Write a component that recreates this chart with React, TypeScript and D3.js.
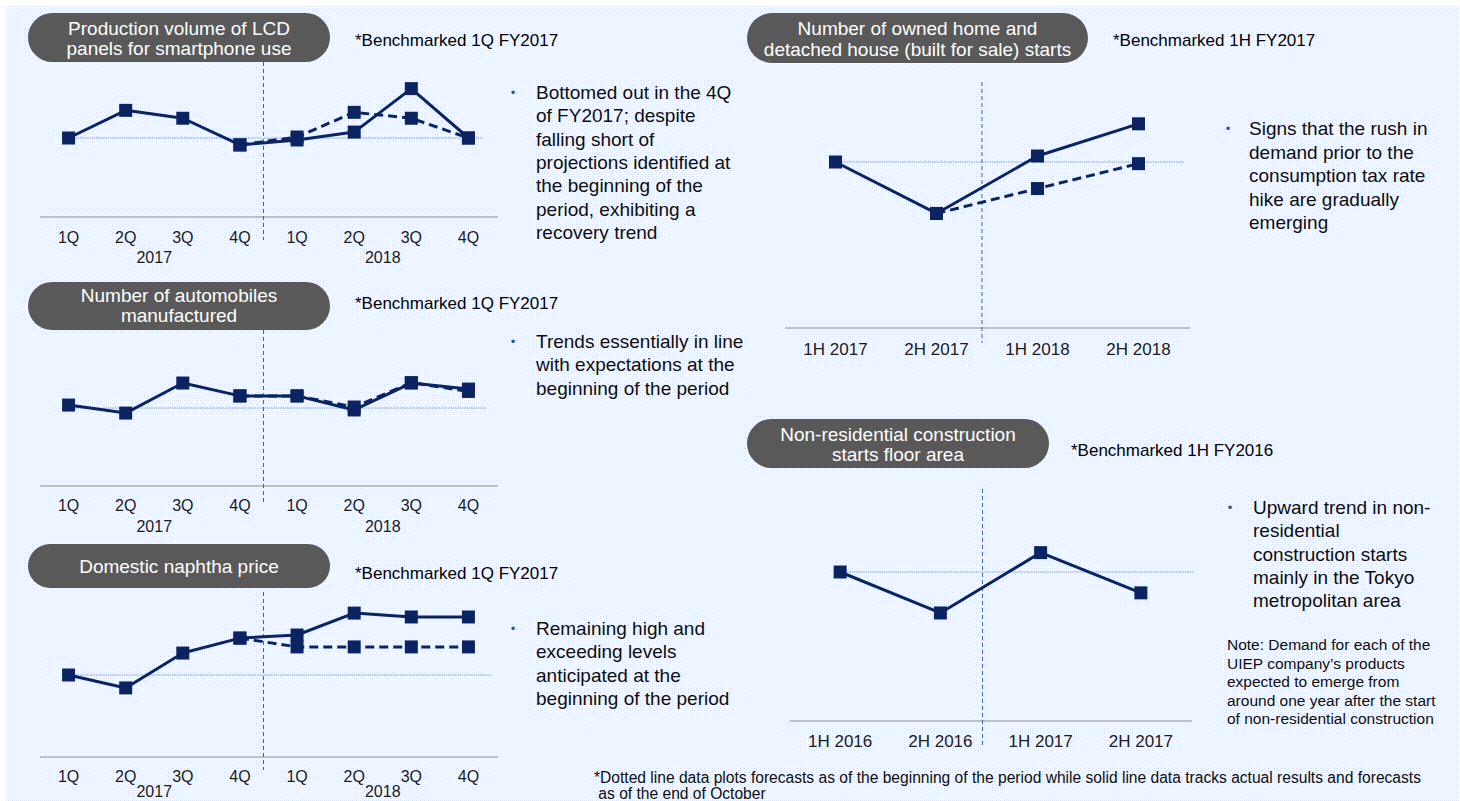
import React from 'react';
import * as d3 from 'd3';

const W = 1460;
const H = 801;
const FONT = "Arial, 'Liberation Sans', Helvetica, sans-serif";
const NAVY = '#0b2461';

// Category labels
const quarterTicks = ['1Q', '2Q', '3Q', '4Q', '1Q', '2Q', '3Q', '4Q'];
const quarterYears = ['2017', '2018'];
const houseHalves = ['1H 2017', '2H 2017', '1H 2018', '2H 2018'];
const nonResHalves = ['1H 2016', '2H 2016', '1H 2017', '2H 2017'];

// Index values (benchmark period = 100); plan = forecast at the beginning of the period
const lcdActual = [100, 114, 110, 96.5, 99, 103, 125, 100];
const lcdPlan = [null, null, null, 96.5, 100.5, 113, 110, 100];

const autoActual = [101.5, 97.4, 112.8, 106.2, 106.2, 99, 112.8, 109.7];
const autoPlan = [null, null, null, 106.2, 106.2, 100.5, 113, 108.5];

const naphthaActual = [100, 93.7, 110.7, 118, 119.5, 130.2, 128.3, 128.3];
const naphthaPlan = [null, null, null, 118, 113.7, 113.7, 113.7, 113.7];

const houseActual = [100, 69, 103.6, 123];
const housePlan = [null, 69, 84, 99];

const nonResActual = [100, 72.5, 113, 86];
const nonResPlan: (number | null)[] = [null, null, null, null];

type Panel = {
  title: string[];
  pill: { x: number; y: number; w: number; h: number };
  titleBase: number[];
  bench: string;
  benchX: number;
  benchY: number;
  ticks: string[];
  years?: string[];
  actual: (number | null)[];
  plan: (number | null)[];
  xRange: [number, number];
  axisY: number;
  refY: number;
  yLow: number;
  tickY: number;
  yearY?: number;
  tickSize: number;
  divShift: number;
  divY: [number, number];
  refPad: number;
  bulletX: number;
  textX: number;
  textY: number;
  lh: number;
  lines: string[];
};

const panels: Panel[] = [
  {
    title: ['Production volume of LCD', 'panels for smartphone use'],
    pill: { x: 28, y: 13, w: 302, h: 49 },
    titleBase: [35, 55],
    bench: '*Benchmarked 1Q FY2017',
    benchX: 355,
    benchY: 46,
    ticks: quarterTicks,
    years: quarterYears,
    actual: lcdActual,
    plan: lcdPlan,
    xRange: [40, 497],
    axisY: 217,
    refY: 138,
    yLow: 60,
    tickY: 243,
    yearY: 263,
    tickSize: 16,
    divShift: -5,
    divY: [62, 240],
    refPad: -14,
    bulletX: 513,
    textX: 536,
    textY: 99,
    lh: 23.3,
    lines: [
      'Bottomed out in the 4Q',
      'of FY2017; despite',
      'falling short of',
      'projections identified at',
      'the beginning of the',
      'period, exhibiting a',
      'recovery trend',
    ],
  },
  {
    title: ['Number of automobiles', 'manufactured'],
    pill: { x: 28, y: 282, w: 302, h: 48 },
    titleBase: [302, 322],
    bench: '*Benchmarked 1Q FY2017',
    benchX: 355,
    benchY: 309,
    ticks: quarterTicks,
    years: quarterYears,
    actual: autoActual,
    plan: autoPlan,
    xRange: [40, 497],
    axisY: 486,
    refY: 408,
    yLow: 60,
    tickY: 511,
    yearY: 532,
    tickSize: 16,
    divShift: -5,
    divY: [330, 505],
    refPad: -10,
    bulletX: 513,
    textX: 536,
    textY: 348,
    lh: 23.3,
    lines: ['Trends essentially in line', 'with expectations at the', 'beginning of the period'],
  },
  {
    title: ['Domestic naphtha price'],
    pill: { x: 28, y: 544, w: 302, h: 44 },
    titleBase: [573],
    bench: '*Benchmarked 1Q FY2017',
    benchX: 355,
    benchY: 579,
    ticks: quarterTicks,
    years: quarterYears,
    actual: naphthaActual,
    plan: naphthaPlan,
    xRange: [40, 497],
    axisY: 757,
    refY: 675,
    yLow: 60,
    tickY: 782,
    yearY: 797,
    tickSize: 16,
    divShift: -5,
    divY: [592, 770],
    refPad: -5,
    bulletX: 513,
    textX: 536,
    textY: 635,
    lh: 23.3,
    lines: ['Remaining high and', 'exceeding levels', 'anticipated at the', 'beginning of the period'],
  },
  {
    title: ['Number of owned home and', 'detached house (built for sale) starts'],
    pill: { x: 747, y: 13, w: 341, h: 50 },
    titleBase: [35, 56],
    bench: '*Benchmarked 1H FY2017',
    benchX: 1113,
    benchY: 46,
    ticks: houseHalves,
    actual: houseActual,
    plan: housePlan,
    xRange: [785, 1189],
    axisY: 328,
    refY: 162,
    yLow: 0,
    tickY: 355,
    tickSize: 17,
    divShift: -5,
    divY: [82, 343],
    refPad: -5,
    bulletX: 1228,
    textX: 1249,
    textY: 135,
    lh: 23.5,
    lines: [
      'Signs that the rush in',
      'demand prior to the',
      'consumption tax rate',
      'hike are gradually',
      'emerging',
    ],
  },
  {
    title: ['Non-residential construction', 'starts floor area'],
    pill: { x: 747, y: 419, w: 302, h: 49 },
    titleBase: [441, 461],
    bench: '*Benchmarked 1H FY2016',
    benchX: 1071,
    benchY: 456,
    ticks: nonResHalves,
    actual: nonResActual,
    plan: nonResPlan,
    xRange: [790, 1191],
    axisY: 721,
    refY: 572,
    yLow: 0,
    tickY: 747,
    tickSize: 17,
    divShift: -8,
    divY: [489, 747],
    refPad: 3,
    bulletX: 1230,
    textX: 1253,
    textY: 514,
    lh: 23.3,
    lines: [
      'Upward trend in non-',
      'residential',
      'construction starts',
      'mainly in the Tokyo',
      'metropolitan area',
    ],
  },
];

const noteLines = [
  'Note: Demand for each of the',
  'UIEP company\u2019s products',
  'expected to emerge from',
  'around one year after the start',
  'of non-residential construction',
];

const footLines = [
  '*Dotted line data plots forecasts as of the beginning of the period while solid line data tracks actual results and forecasts',
  ' as of the end of October',
];

function LinePanel({ p }: { p: Panel }) {
  const idx = p.ticks.map((_, i) => i);
  const x = d3.scaleBand<number>().domain(idx).range(p.xRange).padding(0);
  const cx = (i: number) => (x(i) as number) + x.bandwidth() / 2;
  const y = d3.scaleLinear().domain([p.yLow, 100]).range([p.axisY, p.refY]);

  const toPts = (vals: (number | null)[]) => vals.map((v, i) => [i, v] as [number, number | null]);
  const line = d3
    .line<[number, number | null]>()
    .defined((d) => d[1] != null)
    .x((d) => cx(d[0]))
    .y((d) => y(d[1] as number));

  const actualPts = toPts(p.actual);
  const planPts = toPts(p.plan);
  const half = p.ticks.length / 2;
  const divX = (cx(half - 1) + cx(half)) / 2 + p.divShift;
  const ms = 13;

  return (
    <g>
      {/* title pill */}
      <rect x={p.pill.x} y={p.pill.y} width={p.pill.w} height={p.pill.h} rx={p.pill.h / 2} fill="#595959" />
      {p.title.map((t, i) => (
        <text key={i} x={p.pill.x + p.pill.w / 2} y={p.titleBase[i]} textAnchor="middle" fontSize={19} fill="#ffffff">
          {t}
        </text>
      ))}
      <text x={p.benchX} y={p.benchY} fontSize={17} fill="#000">
        {p.bench}
      </text>

      {/* axis baseline */}
      <line x1={p.xRange[0]} x2={p.xRange[1] + 1} y1={p.axisY} y2={p.axisY} stroke="#8c8c8c" strokeWidth={1.2} />
      {/* benchmark reference */}
      <line
        x1={cx(0)}
        x2={p.xRange[1] + p.refPad}
        y1={y(100)}
        y2={y(100)}
        stroke="#7f9fd9"
        strokeWidth={1.2}
        strokeDasharray="1.5 0.8"
      />
      {/* fiscal-year divider */}
      <line x1={divX} x2={divX} y1={p.divY[0]} y2={p.divY[1]} stroke="#3a64b8" strokeWidth={1} strokeDasharray="4 3" />

      {p.ticks.map((t, i) => (
        <text key={i} x={cx(i)} y={p.tickY} textAnchor="middle" fontSize={p.tickSize} fill="#1a1a1a">
          {t}
        </text>
      ))}
      {p.years &&
        p.years.map((yr, g) => (
          <text
            key={yr}
            x={(cx(g * 4) + cx(g * 4 + 3)) / 2}
            y={p.yearY}
            textAnchor="middle"
            fontSize={16}
            fill="#1a1a1a"
          >
            {yr}
          </text>
        ))}

      {/* series */}
      <path d={line(planPts) || ''} fill="none" stroke={NAVY} strokeWidth={3} strokeDasharray="9 5" />
      <path d={line(actualPts) || ''} fill="none" stroke={NAVY} strokeWidth={3} strokeLinejoin="round" />
      {planPts
        .filter((d) => d[1] != null)
        .map((d) => (
          <rect key={'p' + d[0]} x={cx(d[0]) - ms / 2} y={y(d[1] as number) - ms / 2} width={ms} height={ms} fill={NAVY} />
        ))}
      {actualPts
        .filter((d) => d[1] != null)
        .map((d) => (
          <rect key={'a' + d[0]} x={cx(d[0]) - ms / 2} y={y(d[1] as number) - ms / 2} width={ms} height={ms} fill={NAVY} />
        ))}

      {/* commentary */}
      <text x={p.bulletX} y={p.textY - 2} fontSize={13} fill="#2f5597" textAnchor="middle">
        {'\u2022'}
      </text>
      {p.lines.map((l, i) => (
        <text key={i} x={p.textX} y={p.textY + i * p.lh} fontSize={19} fill="#0d0d0d">
          {l}
        </text>
      ))}
    </g>
  );
}

export default function App() {
  return (
    <svg
      width={W}
      height={H}
      viewBox={`0 0 ${W} ${H}`}
      style={{ position: 'absolute', left: 0, top: 0, display: 'block' }}
      fontFamily={FONT}
    >
      <defs>
        <pattern id="bgDots" width={4} height={4} patternUnits="userSpaceOnUse">
          <rect width={4} height={4} fill="#f8fafd" />
          <rect x={0} y={0} width={1} height={1} fill="#d9e3f6" />
          <rect x={2} y={2} width={1} height={1} fill="#d9e3f6" />
          <rect x={2} y={0} width={1} height={1} fill="#e8eef9" />
          <rect x={0} y={2} width={1} height={1} fill="#e8eef9" />
        </pattern>
      </defs>
      <rect width={W} height={H} fill="#ffffff" />
      <rect x={5} y={6} width={W - 5} height={H - 6} fill="url(#bgDots)" />

      {panels.map((p, i) => (
        <LinePanel key={i} p={p} />
      ))}

      {noteLines.map((l, i) => (
        <text key={i} x={1227} y={650 + i * 18.6} fontSize={15.5} fill="#0d0d0d">
          {l}
        </text>
      ))}
      {footLines.map((l, i) => (
        <text key={i} x={594} y={783 + i * 16} fontSize={15.6} fill="#0d0d0d" style={{ whiteSpace: 'pre' }}>
          {l}
        </text>
      ))}
    </svg>
  );
}
